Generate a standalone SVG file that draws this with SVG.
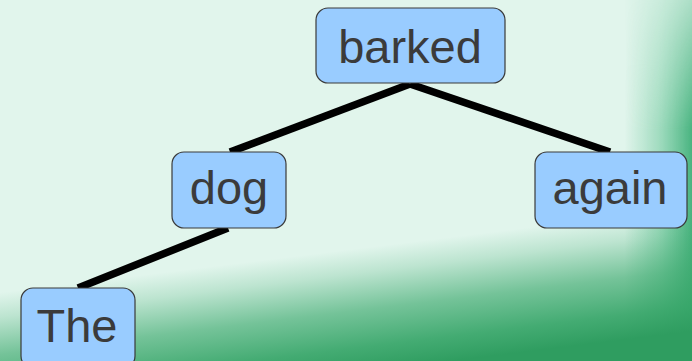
<svg xmlns="http://www.w3.org/2000/svg" width="692" height="361" viewBox="0 0 692 361">
  <defs>
    <linearGradient id="bgLow" gradientUnits="userSpaceOnUse" x1="346" y1="250" x2="361" y2="372">
      <stop offset="0" stop-color="#3aa86c" stop-opacity="0"/>
      <stop offset="0.2" stop-color="#3aa86c" stop-opacity="0.22"/>
      <stop offset="0.5" stop-color="#3aa86c" stop-opacity="0.65"/>
      <stop offset="0.8" stop-color="#36a568" stop-opacity="0.92"/>
      <stop offset="1" stop-color="#2f9d60" stop-opacity="1"/>
    </linearGradient>
    <linearGradient id="bgRight" gradientUnits="userSpaceOnUse" x1="625" y1="0" x2="692" y2="0">
      <stop offset="0" stop-color="#45b880" stop-opacity="0"/>
      <stop offset="0.5" stop-color="#45b880" stop-opacity="0.4"/>
      <stop offset="1" stop-color="#38ac74" stop-opacity="0.9"/>
    </linearGradient>
    <linearGradient id="rightFade" gradientUnits="userSpaceOnUse" x1="0" y1="0" x2="0" y2="130">
      <stop offset="0" stop-color="#fff" stop-opacity="0.35"/>
      <stop offset="1" stop-color="#fff" stop-opacity="1"/>
    </linearGradient>
    <mask id="rightMask">
      <rect x="0" y="0" width="692" height="361" fill="url(#rightFade)"/>
    </mask>
    <style>
      .box { fill: #99ccff; stroke: #3a3a3a; stroke-width: 1.2; }
      .lbl { font-family: "Liberation Sans", Arial, sans-serif; font-size: 47px; fill: #3b3b3b; text-anchor: middle; }
      .edge { stroke: #000; stroke-width: 7.5; stroke-linecap: butt; fill: none; }
    </style>
  </defs>

  <!-- background wash -->
  <rect x="0" y="0" width="692" height="361" fill="#e1f5ec"/>
  <rect x="0" y="0" width="692" height="361" fill="url(#bgRight)" mask="url(#rightMask)"/>
  <rect x="0" y="0" width="692" height="361" fill="url(#bgLow)"/>

  <!-- tree edges -->
  <g id="edges">
    <line class="edge" x1="410" y1="84" x2="230" y2="152"/>
    <line class="edge" x1="410" y1="84" x2="610" y2="152"/>
    <line class="edge" x1="228" y1="228" x2="78" y2="288"/>
  </g>

  <g id="node-barked">
    <rect class="box" x="316" y="8" width="189" height="75" rx="12"/>
    <text class="lbl" x="410" y="63">barked</text>
  </g>
  <g id="node-dog">
    <rect class="box" x="172" y="152" width="114" height="76" rx="12"/>
    <text class="lbl" x="229" y="204">dog</text>
  </g>
  <g id="node-again">
    <rect class="box" x="535" y="152" width="152" height="76" rx="12"/>
    <text class="lbl" x="610" y="204">again</text>
  </g>
  <g id="node-The">
    <rect class="box" x="21" y="288" width="114" height="80" rx="12"/>
    <text class="lbl" x="77" y="342">The</text>
  </g>
</svg>
